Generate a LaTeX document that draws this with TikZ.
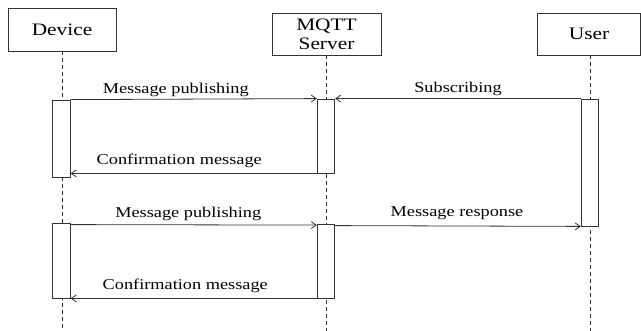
\documentclass[tikz,border=0pt]{standalone}
\usepackage{fontspec}
\setmainfont{Liberation Serif}[FakeStretch=1.22]
\usetikzlibrary{arrows.meta,calc}
\begin{document}
\begin{tikzpicture}[x=1pt,y=-1pt,
  ink/.style={draw=black!80, line width=0.8pt},
  actor/.style={ink, fill=white, inner sep=0pt, font=\fontsize{17.5}{19}\selectfont, align=center},
  act/.style={ink, fill=white, minimum width=17.5pt, inner sep=0pt},
  life/.style={draw=black!80, line width=0.8pt, dash pattern=on 4pt off 3pt},
  msg/.style={ink, -{Straight Barb[length=5pt,width=7pt]}},
  lbl/.style={font=\fontsize{15}{18}\selectfont, anchor=base, inner sep=0pt}]
\useasboundingbox (0,0) rectangle (641,331);
% actors
\node[actor, minimum width=108pt, minimum height=43pt] (dev) at (62,29.5) {Device};
\node[actor, minimum width=109pt, minimum height=42pt] (mq) at (326.5,34) {MQTT\\Server};
\node[actor, minimum width=103pt, minimum height=42pt] (usr) at (589,34) {User};
% lifeline ends
\coordinate (devend) at (62,331);
\coordinate (mqend) at (326,331);
\coordinate (usrend) at (590,331);
\draw[life] (dev.south -| devend) -- (devend);
\draw[life] (mq.south -| mqend) -- (mqend);
\draw[life] (usr.south -| usrend) -- (usrend);
% activations
\node[act, minimum height=77pt] (d1) at (61.5,138.5) {};
\node[act, minimum height=75pt] (d2) at (61.5,261) {};
\node[act, minimum height=74pt] (m1) at (326,136) {};
\node[act, minimum height=74pt] (m2) at (326,261) {};
\node[act, minimum height=127pt] (u1) at (590,162.5) {};
% messages
\draw[msg] (d1.north east) -- (m1.north west)
  node[lbl, pos=0.5, xshift=-18pt, yshift=6pt] (l1) {Message publishing};
\draw[msg] (u1.north west) -- (m1.north east)
  node[lbl, pos=0.5, yshift=6pt] (l2) {Subscribing};
\draw[msg] (m1.south west) -- (m1.south west -| d1.east)
  node[lbl, pos=0.5, xshift=-14.5pt, yshift=9pt] (l3) {Confirmation message};
\draw[msg] ([yshift=-1.5pt]d2.north east) -- ([yshift=-1.5pt]m2.north west)
  node[lbl, pos=0.5, xshift=-5.5pt, yshift=7pt] (l4) {Message publishing};
\draw[msg] ([yshift=-2pt]m2.north east) -- (u1.south west)
  node[lbl, pos=0.5, xshift=-1pt, yshift=9pt] (l5) {Message response};
\draw[msg] (m2.south west) -- (m2.south west -| d2.east)
  node[lbl, pos=0.5, xshift=-8.5pt, yshift=9pt] (l6) {Confirmation message};
\end{tikzpicture}
\end{document}
